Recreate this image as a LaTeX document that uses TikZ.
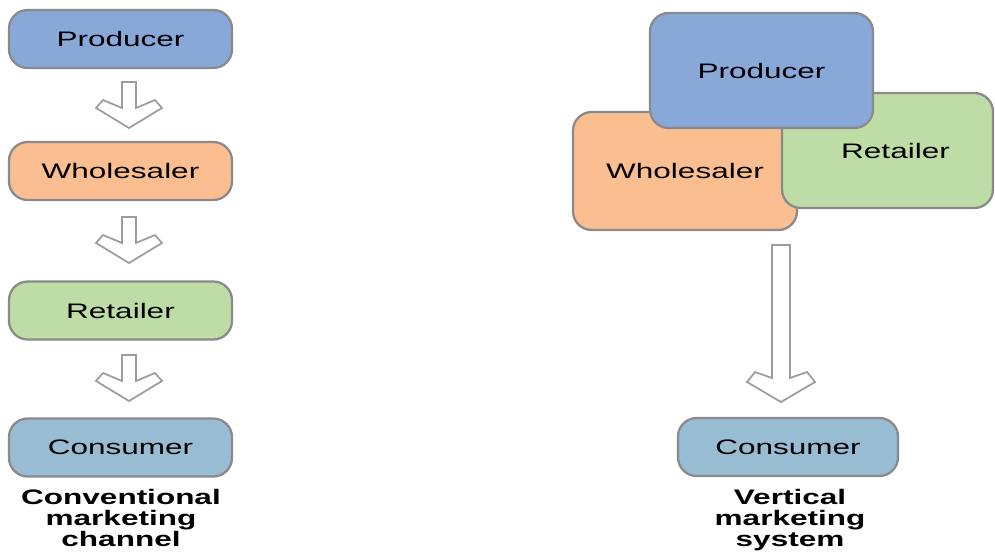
\documentclass[tikz,border=0pt]{standalone}
\usepackage{fontspec}
\setmainfont[FakeStretch=1.5]{Liberation Sans}
\definecolor{boxgray}{HTML}{8A8A8A}
\definecolor{arrgray}{HTML}{9C9C9C}
\definecolor{cprod}{HTML}{88A8D8}
\definecolor{cwhol}{HTML}{FABE91}
\definecolor{cret}{HTML}{BEDCA5}
\definecolor{ccons}{HTML}{98BCD2}
\begin{document}
\begin{tikzpicture}[x=0.75pt,y=-0.75pt]
\tikzset{
  box/.style={draw=boxgray, line width=1.7pt, rounded corners=14pt, inner sep=0pt,
    font=\fontsize{15.75pt}{18pt}\selectfont, text=black},
  lbox/.style={box, minimum width={223*0.75pt}, minimum height={58*0.75pt}},
  blockarr/.style={draw=arrgray, fill=white, line width=1.3pt, line join=miter},
  caption/.style={align=center, inner sep=0pt, anchor=north,
    font=\fontsize{15.75pt}{15.4pt}\selectfont\bfseries}
}
\useasboundingbox (0,0) rectangle (995,552);
\fill[white] (0,0) rectangle (995,552);

% ---- left: conventional channel ----
\node[lbox, fill=cprod] (lp) at (120.5,39) {Producer};
\node[lbox, fill=cwhol] (lw) at (120.5,171) {Wholesaler};
\node[lbox, fill=cret]  (lr) at (120.5,310.5) {Retailer};
\node[lbox, fill=ccons] (lc) at (120.5,447.5) {Consumer};
\node[caption] (lcap) at (121,489.5) {Conventional\\marketing\\channel};

\coordinate (a1) at (129,82);
\coordinate (a2) at (129,217);
\coordinate (a3) at (129,355);
\foreach \a in {a1,a2,a3}{
  \draw[blockarr] (\a) ++(-7,0) -- ++(0,26) -- ++(-19,-8) -- ++(-7,8) -- ++(33,20)
     -- ++(33,-20) -- ++(-7,-8) -- ++(-19,8) -- ++(0,-26) -- cycle;
}

% ---- right: vertical marketing system ----
\node[box, fill=cwhol, minimum width={224*0.75pt}, minimum height={118*0.75pt}] (rw) at (685,171) {Wholesaler};
\node[box, fill=cret, minimum width={211*0.75pt}, minimum height={115*0.75pt}] (rr) at (887.5,150.5) {\hspace*{12pt}Retailer};
\node[box, fill=cprod, minimum width={223*0.75pt}, minimum height={115*0.75pt}] (rp) at (761.5,70.5) {Producer};
\node[box, fill=ccons, minimum width={220*0.75pt}, minimum height={58*0.75pt}] (rc) at (788,447) {Consumer};
\node[caption] (rcap) at (790,489.5) {Vertical\\marketing\\system};

\coordinate (a4) at (781,245);
\draw[blockarr] (a4) ++(-9,0) -- ++(0,133) -- ++(-17,-6) -- ++(-8,10) -- ++(34,20)
   -- ++(34,-20) -- ++(-8,-10) -- ++(-17,6) -- ++(0,-133) -- cycle;
\end{tikzpicture}
\end{document}
